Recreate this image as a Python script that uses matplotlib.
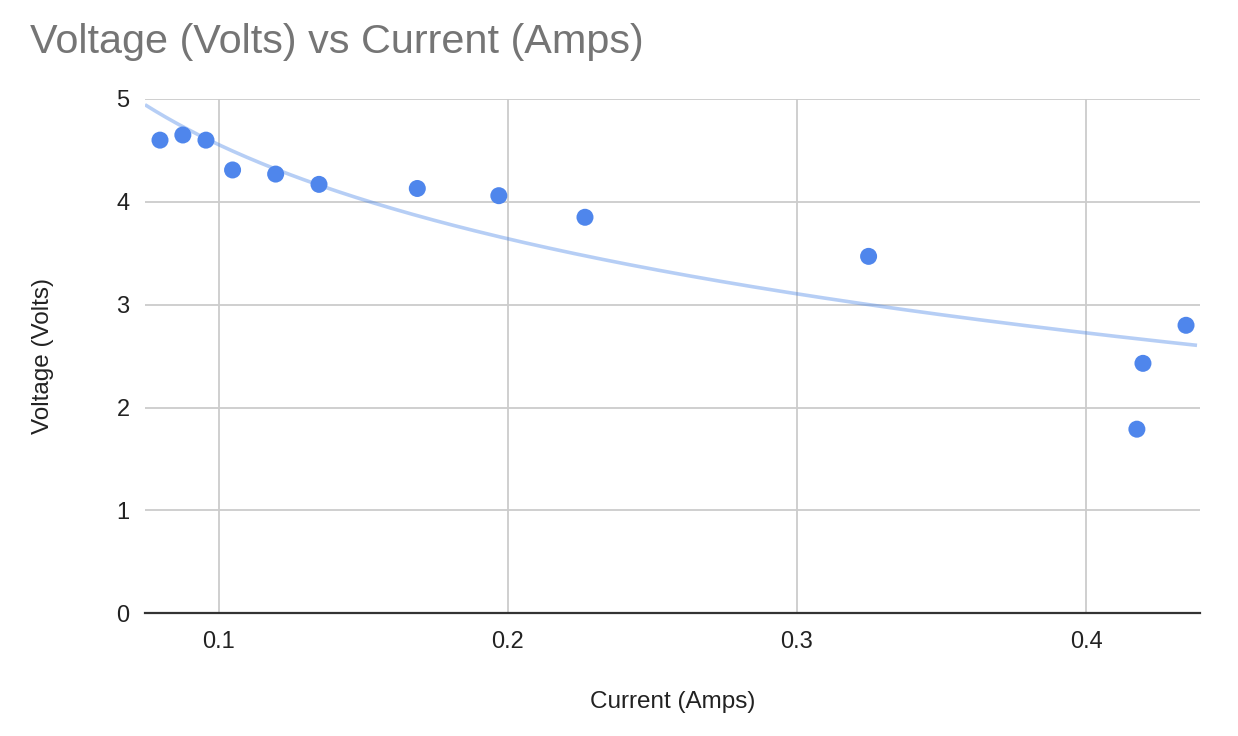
import numpy as np
import matplotlib
matplotlib.use('Agg')
from matplotlib import pyplot as plt

plt.rcParams['font.family'] = ['Liberation Sans', 'DejaVu Sans']

# current (A) / voltage (V) readings
current = [0.0797, 0.0876, 0.0956, 0.1048, 0.1197, 0.1347, 0.1687,
           0.1969, 0.2267, 0.3248, 0.4176, 0.4197, 0.4346]
voltage = [4.60, 4.65, 4.60, 4.31, 4.27, 4.17, 4.13,
           4.06, 3.85, 3.47, 1.79, 2.43, 2.80]
x_ticks = [0.1, 0.2, 0.3, 0.4]
y_ticks = [0, 1, 2, 3, 4, 5]

fig = plt.figure(figsize=(12.38, 7.36), dpi=100)
ax = fig.add_axes([0.1171, 0.1667, 0.8526, 0.6988])

xmin, xmax = 0.0745, 0.4396
ax.set_xlim(xmin, xmax)
ax.set_ylim(0, 5)

# logarithmic trendline, fitted on the data
b, a = np.polyfit(np.log(current), voltage, 1)
xs = np.linspace(xmin, 0.4384, 300)
ax.plot(xs, a + b * np.log(xs), color='#4a86e8', alpha=0.4, lw=2.6,
        solid_capstyle='butt', zorder=2)

ax.scatter(current, voltage, s=150, color='#4f86ec', edgecolors='none', zorder=3)

ax.set_xticks(x_ticks)
ax.set_yticks(y_ticks)
ax.set_xticklabels([str(t) for t in x_ticks])
ax.set_yticklabels([str(t) for t in y_ticks])
ax.grid(True, color='#cccccc', lw=1.3)
ax.set_axisbelow(True)
ax.tick_params(length=0, labelsize=17, colors='#222222')
ax.tick_params(axis='x', pad=13)
ax.tick_params(axis='y', pad=11)

for s in ['top', 'right', 'left']:
    ax.spines[s].set_visible(False)
ax.spines['bottom'].set_color('#333333')
ax.spines['bottom'].set_linewidth(1.6)
ax.spines['bottom'].set_zorder(4)

ax.set_xlabel('Current (Amps)', fontsize=17.5, color='#222222', labelpad=27)
ax.set_ylabel('Voltage (Volts)', fontsize=17.5, color='#222222', labelpad=45)

fig.text(30 / 1238, 1 - 42 / 736, 'Voltage (Volts) vs Current (Amps)', fontsize=29.8,
         color='#757575', ha='left', va='center')

fig.savefig('out.png', dpi=100, facecolor='white')
